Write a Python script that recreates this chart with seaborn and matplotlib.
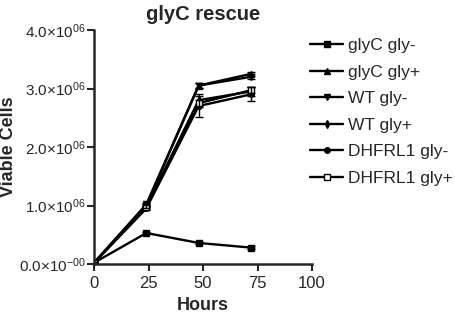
import matplotlib
matplotlib.use("Agg")
import matplotlib.pyplot as plt
import seaborn as sns
import pandas as pd
import numpy as np

hours = [0, 24, 48, 72]
series = ["glyC gly-", "glyC gly+", "WT gly-", "WT gly+", "DHFRL1 gly-", "DHFRL1 gly+"]
glyC_minus = [0.02e6, 0.53e6, 0.36e6, 0.28e6]
glyC_plus = [0.02e6, 1.00e6, 3.05e6, 3.25e6]
WT_minus = [0.02e6, 1.02e6, 3.05e6, 3.20e6]
WT_plus = [0.02e6, 0.97e6, 2.80e6, 2.95e6]
DHFRL1_minus = [0.02e6, 0.95e6, 2.70e6, 2.90e6]
DHFRL1_plus = [0.02e6, 0.98e6, 2.75e6, 2.97e6]
errs = {
    "glyC gly-": [0.01e6, 0.02e6, 0.02e6, 0.03e6],
    "glyC gly+": [0.01e6, 0.03e6, 0.04e6, 0.04e6],
    "WT gly-": [0.01e6, 0.03e6, 0.04e6, 0.04e6],
    "WT gly+": [0.01e6, 0.03e6, 0.10e6, 0.08e6],
    "DHFRL1 gly-": [0.01e6, 0.03e6, 0.18e6, 0.12e6],
    "DHFRL1 gly+": [0.01e6, 0.03e6, 0.06e6, 0.05e6],
}
values = [glyC_minus, glyC_plus, WT_minus, WT_plus, DHFRL1_minus, DHFRL1_plus]
yticks = [0, 1e6, 2e6, 3e6, 4e6]
ytick_labels = ["0.0×10$^{-00}$", "1.0×10$^{06}$", "2.0×10$^{06}$",
                "3.0×10$^{06}$", "4.0×10$^{06}$"]
xticks = [0, 25, 50, 75, 100]

rows = []
for name, vals in zip(series, values):
    for h, v in zip(hours, vals):
        rows.append({"Hours": h, "Cells": v, "Series": name})
df = pd.DataFrame(rows)

sns.set_style("ticks")
plt.rcParams["font.family"] = ["Liberation Sans", "DejaVu Sans"]
plt.rcParams["mathtext.fontset"] = "custom"
plt.rcParams["mathtext.rm"] = "Liberation Sans"
plt.rcParams["mathtext.it"] = "Liberation Sans"
plt.rcParams["mathtext.bf"] = "Liberation Sans:bold"

markers = {"glyC gly-": "s", "glyC gly+": "^", "WT gly-": "v", "WT gly+": "d",
           "DHFRL1 gly-": "o", "DHFRL1 gly+": "s"}
sizes = {"glyC gly-": 5, "glyC gly+": 5, "WT gly-": 5, "WT gly+": 4,
         "DHFRL1 gly-": 4, "DHFRL1 gly+": 4}

fig = plt.figure(figsize=(4.55, 3.22), dpi=100)
ax = fig.add_axes([94/455, 1-264/322, 218/455, 234/322])

for name in series:
    sub = df[df["Series"] == name]
    face = "white" if name == "DHFRL1 gly+" else "black"
    sns.lineplot(data=sub, x="Hours", y="Cells", ax=ax, color="black", lw=1.7,
                 marker=markers[name], markersize=sizes[name], markerfacecolor=face,
                 markeredgecolor="black", markeredgewidth=1, label=name)
    ax.errorbar(sub["Hours"], sub["Cells"], yerr=errs[name], fmt="none",
                ecolor="black", elinewidth=1, capsize=3)

ax.set_xlim(0, 100)
ax.set_ylim(0, 4e6)
ax.set_xticks(xticks)
ax.set_yticks(yticks)
ax.set_yticklabels(ytick_labels)
ax.tick_params(labelsize=11, width=1.5, length=5, direction="out", pad=1)
ax.tick_params(axis="x", labelsize=12, pad=4)
for s in ["left", "bottom"]:
    ax.spines[s].set_linewidth(1.8)
sns.despine(ax=ax)
ax.set_xlabel("Hours", fontsize=13, fontweight="bold", labelpad=4)
ax.set_ylabel("Viable Cells", fontsize=13, fontweight="bold")
ax.yaxis.set_label_coords(-77/218, 0.5)
ax.set_title("glyC rescue", fontsize=14.5, fontweight="bold", pad=7)

leg = ax.legend(loc="upper left", bbox_to_anchor=(0.96, 0.996), frameon=False,
                fontsize=12.5, labelspacing=0.66, handlelength=1.9, handletextpad=0.3,
                borderaxespad=0.0)
fig.savefig("out.png", dpi=100)
